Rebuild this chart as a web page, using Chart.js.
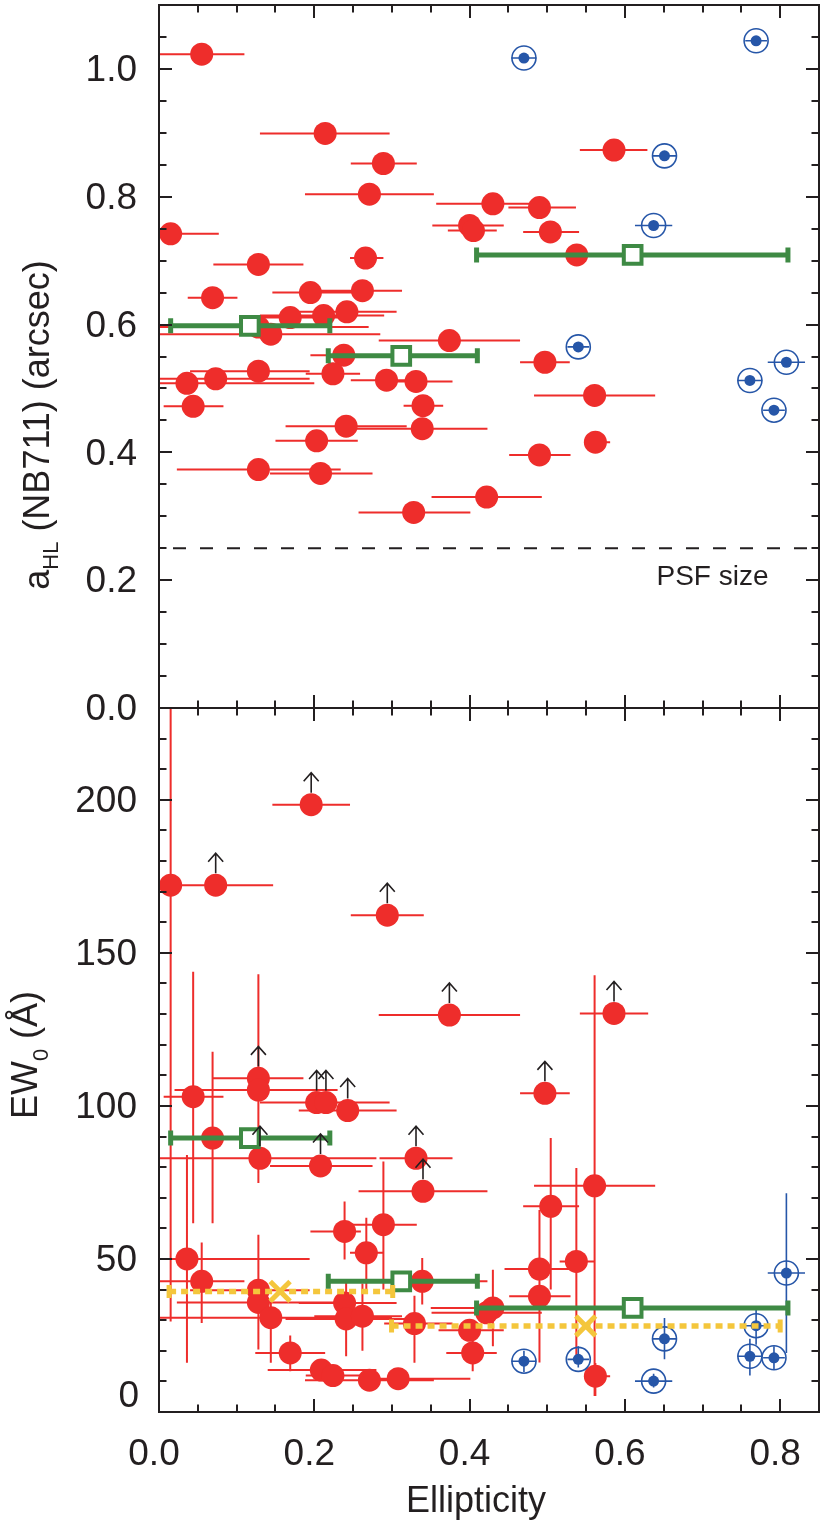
<!DOCTYPE html>
<html><head><meta charset="utf-8">
<script src="https://cdn.jsdelivr.net/npm/chart.js@4.4.1/dist/chart.umd.min.js"></script>
<style>
html,body{margin:0;padding:0;background:#fff;}
#wrap{position:relative;width:830px;height:1536px;overflow:hidden;background:#fff;}
#cTop{position:absolute;left:0;top:0;}
#cBot{position:absolute;left:0;top:700px;}
</style></head><body>
<div id="wrap"><canvas id="cTop" width="830" height="740"></canvas><canvas id="cBot" width="830" height="836"></canvas></div>
<script>
// ---------------- ticks ----------------
const X_MAJOR = [0, 0.2, 0.4, 0.6, 0.8];
const X_MINOR = [0.05, 0.1, 0.15, 0.25, 0.3, 0.35, 0.45, 0.5, 0.55, 0.65, 0.7, 0.75];
const TOP_Y_MAJOR = [0, 0.2, 0.4, 0.6, 0.8, 1.0];
const TOP_Y_MINOR = [0.05, 0.1, 0.15, 0.25, 0.3, 0.35, 0.45, 0.5, 0.55, 0.65, 0.7, 0.75, 0.85, 0.9, 0.95, 1.05];
const BOT_Y_MAJOR = [0, 50, 100, 150, 200];
const BOT_Y_MINOR = [10, 20, 30, 40, 60, 70, 80, 90, 110, 120, 130, 140, 160, 170, 180, 190, 210, 220];

// ---------------- top panel: a_HL ----------------
const RED_TOP_X   = [0.055,0.214,0.289,0.271,0.015,0.128,0.069,0.266,0.195,0.262,0.242,0.212,0.169,0.128,0.144,0.374,0.238,0.036,0.073,0.128,0.224,0.293,0.331,0.044,0.340,0.241,0.339,0.203,0.128,0.208,0.328,0.422,0.586,0.430,0.490,0.400,0.405,0.504,0.538,0.497,0.561,0.562,0.490];
const RED_TOP_Y   = [1.023,0.899,0.852,0.804,0.742,0.694,0.642,0.704,0.650,0.653,0.620,0.614,0.611,0.596,0.585,0.575,0.552,0.508,0.515,0.527,0.523,0.513,0.511,0.472,0.473,0.441,0.437,0.418,0.373,0.367,0.306,0.330,0.873,0.789,0.783,0.755,0.747,0.745,0.709,0.541,0.489,0.416,0.396];
const RED_TOP_XLO = [0.000,0.130,0.247,0.188,0.000,0.070,0.037,0.246,0.146,0.200,0.180,0.130,0.110,0.000,0.000,0.283,0.195,0.000,0.000,0.040,0.189,0.247,0.290,0.006,0.315,0.163,0.250,0.150,0.023,0.143,0.257,0.351,0.542,0.357,0.450,0.352,0.372,0.469,0.500,0.465,0.483,0.550,0.451];
const RED_TOP_XHI = [0.110,0.297,0.332,0.354,0.077,0.186,0.101,0.289,0.260,0.313,0.306,0.290,0.250,0.270,0.285,0.465,0.260,0.200,0.194,0.194,0.259,0.330,0.378,0.083,0.366,0.319,0.423,0.256,0.234,0.275,0.401,0.493,0.629,0.500,0.537,0.444,0.435,0.541,0.580,0.529,0.639,0.581,0.530];

const BLUE_X    = [0.470,0.769,0.651,0.637,0.540,0.808,0.761,0.792];
const BLUE_XERR = [0.016,0.014,0.016,0.024,0.014,0.024,0.016,0.014];
const BLUE_TOP_Y = [1.017,1.044,0.864,0.755,0.565,0.541,0.5125,0.466];

const GREEN_X   = [0.117,0.312,0.610];
const GREEN_XLO = [0.015,0.218,0.409];
const GREEN_XHI = [0.220,0.410,0.810];
const GREEN_TOP_Y = [0.598,0.551,0.709];

const PSF_SIZE = 0.25;

// ---------------- bottom panel: EW0 ----------------
const RED_BOT_X   = [0.015,0.073,0.196,0.294,0.374,0.586,0.044,0.128,0.128,0.203,0.215,0.243,0.069,0.130,0.208,0.331,0.340,0.239,0.289,0.267,0.036,0.055,0.128,0.128,0.339,0.144,0.239,0.241,0.262,0.329,0.400,0.404,0.169,0.209,0.224,0.271,0.308,0.497,0.561,0.5045,0.5375,0.490,0.490,0.430,0.422,0.562];
const RED_BOT_Y   = [172.1,172.1,198.4,162.3,129.7,130.2,103.0,109.0,105.2,101.1,101.1,98.5,89.5,82.9,80.4,82.9,72.1,59.0,61.2,52.0,50.0,42.7,39.8,35.8,42.7,30.8,35.6,30.4,31.3,28.9,26.7,19.3,19.3,13.7,11.9,10.4,10.9,104.1,73.9,67.2,49.2,46.7,37.8,34.0,32.4,11.7];
const RED_BOT_XLO = [0.000,0.000,0.146,0.247,0.283,0.542,0.006,0.070,0.020,0.150,0.130,0.180,0.037,0.000,0.143,0.284,0.257,0.195,0.247,0.246,0.000,0.000,0.040,0.023,0.250,0.000,0.180,0.163,0.200,0.290,0.360,0.370,0.124,0.140,0.189,0.188,0.257,0.465,0.483,0.469,0.516,0.445,0.451,0.350,0.351,0.550];
const RED_BOT_XHI = [0.077,0.147,0.246,0.341,0.465,0.630,0.083,0.186,0.230,0.256,0.297,0.306,0.101,0.280,0.275,0.378,0.423,0.260,0.332,0.289,0.194,0.110,0.194,0.234,0.423,0.300,0.306,0.319,0.313,0.378,0.444,0.435,0.214,0.280,0.259,0.354,0.401,0.529,0.639,0.541,0.561,0.531,0.530,0.510,0.493,0.581];
const RED_BOT_YLO = [29.6,null,null,null,null,null,61.7,null,74.8,null,null,null,61.7,null,null,null,null,49.8,40.0,40.0,16.1,29.1,20.4,null,35.1,16.1,null,18.2,20.0,16.1,null,13.3,13.3,null,null,null,null,null,5.2,40.0,18.2,16.2,null,21.5,null,5.2];
const RED_BOT_YHI = [240,null,null,null,null,null,143.8,null,143.0,null,null,null,117.7,null,null,null,null,68.8,81.8,63.5,84.0,55.4,57.9,null,50.3,35.7,null,43.0,42.0,38.0,null,25.0,25.0,null,null,null,null,null,142.7,89.5,79.7,66.0,null,46.5,null,16.0];
const RED_BOT_LOWER_LIMIT = [0,1,1,1,1,1,0,1,0,1,1,1,0,1,1,1,1,0,0,0,0,0,0,0,0,0,0,0,0,0,0,0,0,0,0,0,0,1,0,0,0,0,0,0,0,0];

const BLUE_BOT_Y   = [16.6,28.2,23.9,10.1,17.2,45.4,18.2,17.7];
const BLUE_BOT_YLO = [13.0,22.0,17.2,8.0,14.5,19.3,11.9,14.0];
const BLUE_BOT_YHI = [20.0,33.5,30.7,12.5,21.5,71.5,23.9,21.5];

const GREEN_BOT_Y = [89.5,42.7,34.0];

const YEL_X   = [0.156,0.5495];
const YEL_Y   = [39.4,28.1];
const YEL_XLO = [0.013,0.2995];
const YEL_XHI = [0.301,0.800];

// ---------------- styling ----------------
const FONT = "'Liberation Sans', Arial, Helvetica, sans-serif";
const INK = '#231f20', RED = '#ee2d2b', BLUE = '#2656a8', GREEN = '#3e8a44', YEL = '#f4c63c';
const X_MIN = 0, X_MAX = 0.85;

const pts = (xs, ys) => xs.map((v, i) => ({x: v, y: ys[i]}));
const minus = (a, b) => a.map((v, i) => v - b[i]);
const plus = (a, b) => a.map((v, i) => v + b[i]);

function rotTitle(ctx, parts, bx, cy) {
  ctx.save();
  ctx.translate(bx, cy);
  ctx.rotate(-Math.PI / 2);
  ctx.fillStyle = INK; ctx.textBaseline = 'alphabetic'; ctx.textAlign = 'left';
  let total = 0;
  parts.forEach(p => { ctx.font = p.size + 'px ' + FONT; p.w = ctx.measureText(p.t).width; total += p.w; });
  let x = -total / 2;
  parts.forEach(p => { ctx.font = p.size + 'px ' + FONT; ctx.fillText(p.t, x, p.dy); x += p.w; });
  ctx.restore();
}

function decor(cfg) {
  return {
    id: 'decor',
    beforeDatasetsDraw(chart) {
      const {ctx, chartArea: a} = chart; const xs = chart.scales.x, ys = chart.scales.y;
      ctx.save();
      ctx.beginPath(); ctx.rect(a.left, a.top, a.right - a.left, a.bottom - a.top); ctx.clip();
      ctx.lineCap = 'butt';
      for (const e of cfg.errors) {
        ctx.strokeStyle = e.color; ctx.lineWidth = e.width; ctx.beginPath();
        e.x.forEach((xv, i) => {
          const px = xs.getPixelForValue(xv), py = ys.getPixelForValue(e.y[i]);
          if (e.xlo) { ctx.moveTo(xs.getPixelForValue(e.xlo[i]), py); ctx.lineTo(xs.getPixelForValue(e.xhi[i]), py); }
          if (e.ylo && e.ylo[i] !== null) { ctx.moveTo(px, ys.getPixelForValue(e.ylo[i])); ctx.lineTo(px, ys.getPixelForValue(e.yhi[i])); }
        });
        ctx.stroke();
      }
      ctx.restore();
    },
    afterDatasetsDraw(chart) {
      const {ctx, chartArea: a} = chart; const xs = chart.scales.x, ys = chart.scales.y;
      ctx.save();
      ctx.lineCap = 'butt';
      for (const c of cfg.caps) {
        ctx.strokeStyle = c.color; ctx.lineWidth = c.width; ctx.beginPath();
        c.y.forEach((yv, i) => {
          const py = ys.getPixelForValue(yv);
          [c.xlo[i], c.xhi[i]].forEach(xv => {
            const px = xs.getPixelForValue(xv);
            ctx.moveTo(px, py - c.h / 2); ctx.lineTo(px, py + c.h / 2);
          });
        });
        ctx.stroke();
      }
      if (cfg.arrows) {
        const A = cfg.arrows;
        ctx.strokeStyle = INK; ctx.lineWidth = 1.6; ctx.beginPath();
        A.x.forEach((xv, i) => {
          if (!A.flag[i]) return;
          const px = xs.getPixelForValue(xv), py = ys.getPixelForValue(A.y[i]);
          const y0 = py - 12, y1 = py - 32;
          ctx.moveTo(px, y0); ctx.lineTo(px, y1);
          ctx.moveTo(px - 7.5, y1 + 8.5); ctx.lineTo(px, y1); ctx.lineTo(px + 7.5, y1 + 8.5);
        });
        ctx.stroke();
      }
      // frame
      ctx.strokeStyle = INK; ctx.lineWidth = 2;
      ctx.strokeRect(a.left, a.top, a.right - a.left, a.bottom - a.top);
      ctx.beginPath();
      const xt = (vals, len) => vals.forEach(v => {
        const px = Math.round(xs.getPixelForValue(v));
        ctx.moveTo(px, a.bottom); ctx.lineTo(px, a.bottom - len);
        ctx.moveTo(px, a.top); ctx.lineTo(px, a.top + len);
      });
      const yt = (vals, len) => vals.forEach(v => {
        const py = Math.round(ys.getPixelForValue(v));
        ctx.moveTo(a.left, py); ctx.lineTo(a.left + len, py);
        ctx.moveTo(a.right, py); ctx.lineTo(a.right - len, py);
      });
      xt(X_MAJOR, 13); xt(X_MINOR, 7.5);
      yt(cfg.yMajor, 13); yt(cfg.yMinor, 7.5);
      ctx.stroke();
      cfg.texts(chart, ctx, xs, ys);
      ctx.restore();
    }
  };
}

function yScale(min, max, majors, fmt) {
  return {
    type: 'linear', min: min, max: max,
    afterBuildTicks: s => { s.ticks = majors.map(v => ({value: v})); },
    afterFit: s => { s.width = 159; s.paddingTop = 0; s.paddingBottom = 0; },
    grid: {display: false, drawTicks: false}, border: {display: false},
    ticks: {callback: fmt, font: {size: 37, family: FONT}, color: INK, padding: 22, labelOffset: 2}
  };
}

const commonOpts = {
  responsive: false, animation: false, events: [],
  plugins: {legend: {display: false}, tooltip: {enabled: false}}
};

// ---------------- top chart ----------------
const topDatasets = [
  {data: [{x: X_MIN, y: PSF_SIZE}, {x: X_MAX, y: PSF_SIZE}], showLine: true, borderColor: INK, borderWidth: 2,
   borderDash: [13, 14], borderDashOffset: 13, pointRadius: 0, order: 9},
  {data: pts(RED_TOP_X, RED_TOP_Y), pointRadius: 11.5, pointBackgroundColor: RED, pointBorderWidth: 0, order: 8},
  {data: pts(BLUE_X, BLUE_TOP_Y), pointRadius: 12, pointBackgroundColor: 'rgba(0,0,0,0)', pointBorderColor: BLUE, pointBorderWidth: 1.6, order: 7},
  {data: pts(BLUE_X, BLUE_TOP_Y), pointRadius: 5.5, pointBackgroundColor: BLUE, pointBorderWidth: 0, order: 6},
  ...GREEN_X.map((_, i) => ({data: [{x: GREEN_XLO[i], y: GREEN_TOP_Y[i]}, {x: GREEN_XHI[i], y: GREEN_TOP_Y[i]}],
     showLine: true, borderColor: GREEN, borderWidth: 5, borderCapStyle: 'butt', pointRadius: 0, order: 3})),
  {data: pts(GREEN_X, GREEN_TOP_Y), pointStyle: 'rect', pointRadius: 12.5, pointBackgroundColor: '#fff', pointBorderColor: GREEN, pointBorderWidth: 4, order: 2}
];

new Chart(document.getElementById('cTop'), {
  type: 'scatter',
  data: {datasets: topDatasets},
  options: Object.assign({}, commonOpts, {
    layout: {autoPadding: false, padding: {top: 5, right: 11, bottom: 32, left: 0}},
    scales: {
      x: {type: 'linear', min: X_MIN, max: X_MAX, display: false},
      y: yScale(0, 1.1, TOP_Y_MAJOR, v => Number(v).toFixed(1))
    }
  }),
  plugins: [decor({
    errors: [
      {x: RED_TOP_X, y: RED_TOP_Y, xlo: RED_TOP_XLO, xhi: RED_TOP_XHI, color: RED, width: 2},
      {x: BLUE_X, y: BLUE_TOP_Y, xlo: minus(BLUE_X, BLUE_XERR), xhi: plus(BLUE_X, BLUE_XERR), color: BLUE, width: 1.6}
    ],
    caps: [{y: GREEN_TOP_Y, xlo: GREEN_XLO, xhi: GREEN_XHI, color: GREEN, width: 5, h: 15}],
    yMajor: TOP_Y_MAJOR, yMinor: TOP_Y_MINOR,
    texts: (chart, ctx, xs, ys) => {
      ctx.fillStyle = INK; ctx.font = '28px ' + FONT; ctx.textAlign = 'right'; ctx.textBaseline = 'alphabetic';
      ctx.fillText('PSF size', xs.getPixelForValue(0.785), ys.getPixelForValue(0.192));
      rotTitle(ctx, [{t: 'a', size: 36, dy: 0}, {t: 'HL', size: 22, dy: 9}, {t: ' (NB711) (arcsec)', size: 36, dy: 0}], 49, 425);
    }
  })]
});

// ---------------- bottom chart ----------------
const botDatasets = [
  {data: pts(RED_BOT_X, RED_BOT_Y), pointRadius: 11.5, pointBackgroundColor: RED, pointBorderWidth: 0, order: 8},
  {data: pts(BLUE_X, BLUE_BOT_Y), pointRadius: 12, pointBackgroundColor: 'rgba(0,0,0,0)', pointBorderColor: BLUE, pointBorderWidth: 1.6, order: 7},
  {data: pts(BLUE_X, BLUE_BOT_Y), pointRadius: 5.5, pointBackgroundColor: BLUE, pointBorderWidth: 0, order: 6},
  ...GREEN_X.map((_, i) => ({data: [{x: GREEN_XLO[i], y: GREEN_BOT_Y[i]}, {x: GREEN_XHI[i], y: GREEN_BOT_Y[i]}],
     showLine: true, borderColor: GREEN, borderWidth: 5, borderCapStyle: 'butt', pointRadius: 0, order: 4})),
  {data: pts(GREEN_X, GREEN_BOT_Y), pointStyle: 'rect', pointRadius: 12.5, pointBackgroundColor: '#fff', pointBorderColor: GREEN, pointBorderWidth: 4, order: 3},
  ...YEL_X.map((_, i) => ({data: [{x: YEL_XLO[i], y: YEL_Y[i]}, {x: YEL_XHI[i], y: YEL_Y[i]}],
     showLine: true, borderColor: YEL, borderWidth: 5.5, borderDash: [7, 5], borderCapStyle: 'butt', pointRadius: 0, order: 1})),
  {data: pts(YEL_X, YEL_Y), pointStyle: 'crossRot', pointRadius: 14, pointBorderColor: YEL, pointBackgroundColor: YEL, pointBorderWidth: 5, order: 0}
];

new Chart(document.getElementById('cBot'), {
  type: 'scatter',
  data: {datasets: botDatasets},
  options: Object.assign({}, commonOpts, {
    layout: {autoPadding: false, padding: {top: 8, right: 11, bottom: 0, left: 0}},
    scales: {
      x: {
        type: 'linear', min: X_MIN, max: X_MAX, position: 'bottom',
        afterBuildTicks: s => { s.ticks = X_MAJOR.map(v => ({value: v})); },
        afterFit: s => { s.height = 124; s.paddingLeft = 0; s.paddingRight = 0; },
        grid: {display: false, drawTicks: false}, border: {display: false},
        ticks: {callback: v => Number(v).toFixed(1), font: {size: 37, family: FONT}, color: INK, padding: 21, labelOffset: -5, maxRotation: 0, autoSkip: false}
      },
      y: yScale(0, 230, BOT_Y_MAJOR, v => (v === 0 ? '' : String(v)))
    }
  }),
  plugins: [decor({
    errors: [
      {x: RED_BOT_X, y: RED_BOT_Y, xlo: RED_BOT_XLO, xhi: RED_BOT_XHI, ylo: RED_BOT_YLO, yhi: RED_BOT_YHI, color: RED, width: 2},
      {x: BLUE_X, y: BLUE_BOT_Y, xlo: minus(BLUE_X, BLUE_XERR), xhi: plus(BLUE_X, BLUE_XERR), ylo: BLUE_BOT_YLO, yhi: BLUE_BOT_YHI, color: BLUE, width: 1.6}
    ],
    caps: [
      {y: GREEN_BOT_Y, xlo: GREEN_XLO, xhi: GREEN_XHI, color: GREEN, width: 5, h: 15},
      {y: YEL_Y, xlo: YEL_XLO, xhi: YEL_XHI, color: YEL, width: 5, h: 13}
    ],
    arrows: {x: RED_BOT_X, y: RED_BOT_Y, flag: RED_BOT_LOWER_LIMIT},
    yMajor: BOT_Y_MAJOR, yMinor: BOT_Y_MINOR,
    texts: (chart, ctx, xs, ys) => {
      ctx.fillStyle = INK; ctx.font = '37px ' + FONT; ctx.textAlign = 'right'; ctx.textBaseline = 'middle';
      ctx.fillText('0', 139, ys.getPixelForValue(0) - 15);
      ctx.font = '36px ' + FONT; ctx.textAlign = 'center'; ctx.textBaseline = 'middle';
      ctx.fillText('Ellipticity', 476, 802);
      rotTitle(ctx, [{t: 'EW', size: 36, dy: 0}, {t: '0', size: 22, dy: 11}, {t: ' (Å)', size: 36, dy: 0}], 37, 355);
    }
  })]
});
</script>
</body></html>
